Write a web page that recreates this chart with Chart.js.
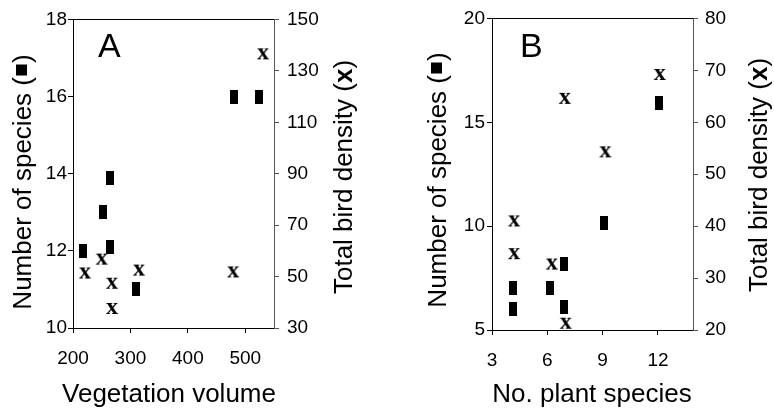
<!DOCTYPE html>
<html>
<head>
<meta charset="utf-8">
<script src="https://cdn.jsdelivr.net/npm/chart.js@4/dist/chart.umd.min.js"></script>
<style>
  html, body { margin: 0; padding: 0; background: #fff; }
  #wrap { position: relative; width: 774px; height: 411px; overflow: hidden; }
  canvas { position: absolute; top: 0; }
  #cA { left: 0; }
  #cB { left: 390px; }
</style>
</head>
<body>
<div id="wrap">
  <canvas id="cA" width="390" height="411"></canvas>
  <canvas id="cB" width="384" height="411"></canvas>
</div>
<script>
// ---- Panel A: vegetation volume ----
const volSpeciesA   = [217, 252, 264, 264, 309, 481, 524];
const speciesA      = [12, 13, 13.9, 12.1, 11, 16, 16];
const volDensityA   = [221, 250, 268, 268, 315, 479, 531];
const densityA      = [51.6, 57, 47.6, 37.8, 52.7, 52, 136.8];
const xTicksA       = [200, 300, 400, 500];
const leftTicksA    = [10, 12, 14, 16, 18];
const rightTicksA   = [30, 50, 70, 90, 110, 130, 150];

// ---- Panel B: number of plant species ----
const plantSpeciesB = [4.15, 4.15, 6.15, 6.9, 6.9, 9.05, 12.05];
const speciesB      = [7, 6, 7, 8.2, 6.1, 10.15, 15.95];
const plantDensityB = [4.2, 4.2, 6.25, 6.95, 7, 9.15, 12.1];
const densityB      = [41.1, 34.8, 32.8, 64.7, 21.4, 54.4, 69.3];
const xTicksB       = [3, 6, 9, 12];
const leftTicksB    = [5, 10, 15, 20];
const rightTicksB   = [20, 30, 40, 50, 60, 70, 80];

const SANS = '"Liberation Sans", Arial, Helvetica, sans-serif';
Chart.defaults.font.family = SANS;
Chart.defaults.color = '#000';

// Marker glyphs: a filled upright block and a bold serif "x"
function blockMarker() {
  const c = document.createElement('canvas');
  c.width = 8; c.height = 14;
  const g = c.getContext('2d');
  g.fillStyle = '#000';
  g.fillRect(0, 0, 8, 14);
  return c;
}
function crossMarker() {
  const c = document.createElement('canvas');
  c.width = 20; c.height = 20;
  const g = c.getContext('2d');
  g.font = 'bold 24px "Liberation Serif", "Times New Roman", serif';
  g.fillStyle = '#000';
  g.textAlign = 'center';
  const m = g.measureText('x');
  g.fillText('x', 10, 10 + (m.actualBoundingBoxAscent - m.actualBoundingBoxDescent) / 2);
  return c;
}
const BLOCK = blockMarker();
const CROSS = crossMarker();

function pairs(xs, ys) { return xs.map((x, i) => ({ x: x, y: ys[i] })); }
function fixedTicks(values) { return axis => { axis.ticks = values.map(v => ({ value: v })); }; }

function axisBase(values, lineColor, pad) {
  return {
    type: 'linear',
    afterBuildTicks: fixedTicks(values),
    grid: { display: true, drawOnChartArea: false, drawTicks: true, tickLength: 5,
            color: lineColor, tickColor: lineColor },
    border: { display: true, color: lineColor, width: 1 },
    ticks: { font: { size: 19 }, color: '#000', padding: pad, autoSkip: false, maxRotation: 0 }
  };
}

// Draw a run of text pieces centred on (cx, cy); rotated runs read bottom to top.
function drawRun(ctx, parts, cx, cy, rotated) {
  ctx.save();
  ctx.translate(cx, cy);
  if (rotated) ctx.rotate(-Math.PI / 2);
  ctx.textBaseline = 'alphabetic';
  ctx.textAlign = 'left';
  let total = 0;
  const widths = parts.map(p => {
    let w;
    if (p.box) { w = p.advance; }
    else { ctx.font = p.font; w = ctx.measureText(p.text).width; }
    total += w;
    return w;
  });
  let x = -total / 2;
  parts.forEach((p, i) => {
    if (p.box) {
      ctx.fillStyle = '#000';
      ctx.fillRect(x + (p.advance - p.box) / 2, -p.lift - p.box / 2, p.box, p.box);
    } else {
      ctx.font = p.font;
      ctx.fillStyle = '#000';
      ctx.fillText(p.text, x, 0);
    }
    x += widths[i];
  });
  ctx.restore();
}

const TITLE = '26px ' + SANS;
const TITLE_BOLD = 'bold 26px ' + SANS;
const leftTitle = [
  { text: 'Number of species (', font: TITLE },
  { box: 11, advance: 14, lift: 9.5 },
  { text: ')', font: TITLE }
];
const rightTitle = [
  { text: 'Total bird density (', font: TITLE },
  { text: 'x', font: TITLE_BOLD },
  { text: ')', font: TITLE }
];

const panelText = {
  id: 'panelText',
  afterDraw(chart, args, o) {
    const ctx = chart.ctx;
    const a = chart.chartArea;
    ctx.save();
    // upper frame edge
    ctx.strokeStyle = '#000';
    ctx.lineWidth = 1;
    const yt = Math.round(a.top) + 0.5;
    ctx.beginPath(); ctx.moveTo(a.left, yt); ctx.lineTo(a.right, yt); ctx.stroke();
    // panel letter
    ctx.font = '34px ' + SANS;
    ctx.fillStyle = '#000';
    ctx.textBaseline = 'alphabetic';
    ctx.textAlign = 'left';
    ctx.fillText(o.letter, o.letterX, o.letterY);
    ctx.restore();
    drawRun(ctx, leftTitle, o.leftX, o.leftY, true);
    drawRun(ctx, rightTitle, o.rightX, o.rightY, true);
    drawRun(ctx, [{ text: o.xTitle, font: TITLE }], o.xTitleX, o.xTitleY, false);
  }
};

function makePanel(id, d) {
  const xScale = Object.assign(axisBase(d.xTicks, '#000', d.xPad), {
    position: 'bottom', min: d.xMin, max: d.xMax,
    afterFit: s => { s.height = d.xHeight; }
  });
  const yScale = Object.assign(axisBase(d.leftTicks, '#000', d.leftPad), {
    position: 'left', min: d.leftTicks[0], max: d.leftTicks[d.leftTicks.length - 1],
    afterFit: s => { s.width = d.leftWidth; }
  });
  const y1Scale = Object.assign(axisBase(d.rightTicks, '#555', d.rightPad), {
    position: 'right', min: d.rightTicks[0], max: d.rightTicks[d.rightTicks.length - 1],
    afterFit: s => { s.width = d.rightWidth; }
  });
  return new Chart(document.getElementById(id), {
    type: 'scatter',
    data: {
      datasets: [
        { label: 'Number of species', data: pairs(d.xs1, d.ys1), yAxisID: 'y',
          pointStyle: BLOCK, pointRadius: 6, clip: false },
        { label: 'Total bird density', data: pairs(d.xs2, d.ys2), yAxisID: 'y1',
          pointStyle: CROSS, pointRadius: 6, clip: false }
      ]
    },
    options: {
      responsive: false,
      animation: false,
      devicePixelRatio: 1,
      layout: { padding: { top: d.top, left: 0, right: 0, bottom: 0 } },
      plugins: { legend: { display: false }, tooltip: { enabled: false }, panelText: d.text },
      scales: { x: xScale, y: yScale, y1: y1Scale }
    },
    plugins: [panelText]
  });
}

makePanel('cA', {
  xs1: volSpeciesA, ys1: speciesA, xs2: volDensityA, ys2: densityA,
  xTicks: xTicksA, leftTicks: leftTicksA, rightTicks: rightTicksA,
  xMin: 200, xMax: 550,
  top: 12, xHeight: 83, leftWidth: 73, rightWidth: 116,
  xPad: 14, leftPad: 1, rightPad: 8,
  text: { letter: 'A', letterX: 98, letterY: 57,
          leftX: 31, leftY: 182, rightX: 352, rightY: 177,
          xTitle: 'Vegetation volume', xTitleX: 169, xTitleY: 402 }
});

makePanel('cB', {
  xs1: plantSpeciesB, ys1: speciesB, xs2: plantDensityB, ys2: densityB,
  xTicks: xTicksB, leftTicks: leftTicksB, rightTicks: rightTicksB,
  xMin: 3, xMax: 13.9,
  top: 13, xHeight: 81, leftWidth: 102, rightWidth: 81,
  xPad: 14, leftPad: 2, rightPad: 7,
  text: { letter: 'B', letterX: 130, letterY: 57,
          leftX: 56, leftY: 180, rightX: 377, rightY: 175,
          xTitle: 'No. plant species', xTitleX: 202, xTitleY: 402 }
});
</script>
</body>
</html>
